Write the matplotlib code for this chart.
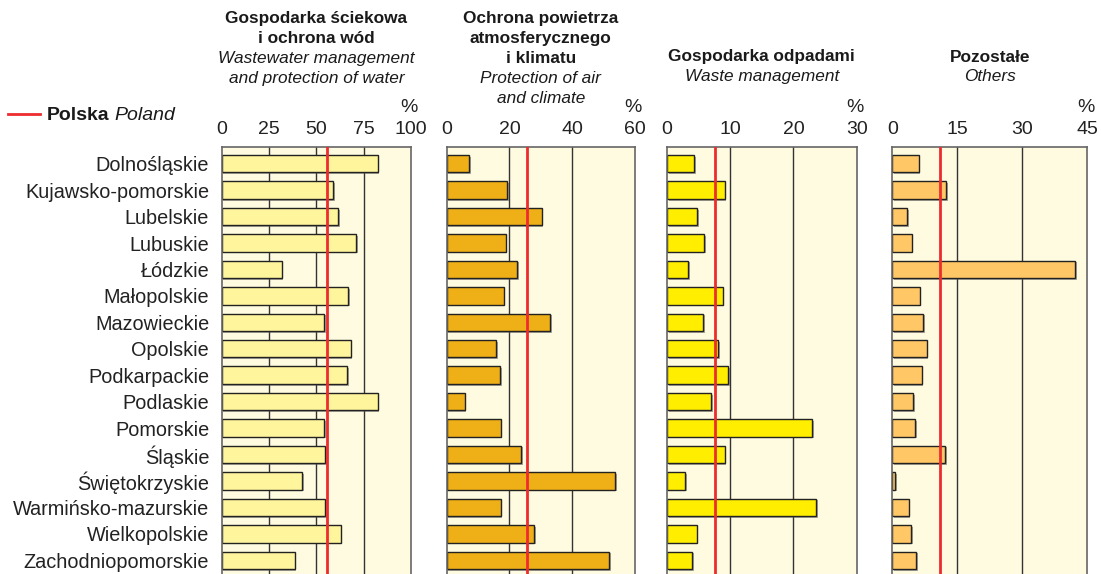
import matplotlib
matplotlib.use("Agg")
import matplotlib.pyplot as plt
import matplotlib.patheffects as pe
from matplotlib.lines import Line2D

plt.rcParams['font.family'] = ['Liberation Sans', 'DejaVu Sans']

regions = ["Dolnośląskie", "Kujawsko-pomorskie", "Lubelskie", "Lubuskie", "Łódzkie",
           "Małopolskie", "Mazowieckie", "Opolskie", "Podkarpackie", "Podlaskie",
           "Pomorskie", "Śląskie", "Świętokrzyskie", "Warmińsko-mazurskie",
           "Wielkopolskie", "Zachodniopomorskie"]

wastewater = [82.4, 59.0, 61.4, 71.0, 31.7, 66.9, 54.2, 68.1, 66.2, 82.4, 54.2, 54.8, 42.6, 54.8, 62.9, 38.6]
air = [7.2, 19.3, 30.3, 18.8, 22.5, 18.1, 33.0, 15.8, 17.1, 5.7, 17.2, 23.8, 53.7, 17.2, 27.9, 51.7]
waste = [4.3, 9.1, 4.8, 5.9, 3.4, 8.8, 5.7, 8.1, 9.7, 7.0, 23.0, 9.1, 2.9, 23.6, 4.7, 4.0]
others = [6.1, 12.4, 3.5, 4.5, 42.2, 6.3, 7.1, 7.9, 6.8, 4.8, 5.3, 12.2, 0.7, 3.8, 4.4, 5.5]
poland = [55.5, 25.7, 7.6, 11.1]

xmax = [100, 60, 30, 45]
ticks = [[0, 25, 50, 75, 100], [0, 20, 40, 60], [0, 10, 20, 30], [0, 15, 30, 45]]

titles = [
    [("Gospodarka ściekowa", "bold"), ("i ochrona wód", "bold"),
     ("Wastewater management", "italic"), ("and protection of water", "italic")],
    [("Ochrona powietrza", "bold"), ("atmosferycznego", "bold"), ("i klimatu", "bold"),
     ("Protection of air", "italic"), ("and climate", "italic")],
    [("Gospodarka odpadami", "bold"), ("Waste management", "italic")],
    [("Pozostałe", "bold"), ("Others", "italic")],
]
title_top_px = [19, 19, 57, 57]

series = [wastewater, air, waste, others]
colors = ["#FFF59C", "#EEAF17", "#FFEE00", "#FFC766"]
bg = "#FFFBE0"
W, H = 1101, 574

fig = plt.figure(figsize=(W / 100, H / 100), dpi=100)

panels_px = [(221.7, 411.0), (446.7, 635.0), (667.0, 856.7), (892.3, 1087.3)]
top_px = 147.3

for i, (x0, x1) in enumerate(panels_px):
    ax = fig.add_axes([x0 / W, 0, (x1 - x0) / W, 1 - top_px / H])
    ax.set_facecolor(bg)
    ypos = list(range(len(regions)))
    for t in ticks[i][1:-1]:
        ax.axvline(t, color="#333333", lw=1.0, zorder=1)
    bars = ax.barh(ypos, series[i], height=0.66, color=colors[i], edgecolor="#222222",
                   linewidth=1.0, zorder=2)
    for b in bars:
        b.set_path_effects([pe.SimplePatchShadow(offset=(1.2, -1.2), shadow_rgbFace="#555555", alpha=0.5),
                            pe.Normal()])
    ax.axvline(poland[i], color="#EE2B2E", lw=2.0, zorder=3)
    ax.set_xlim(0, xmax[i])
    ax.set_ylim(15.52, -0.62)
    ax.xaxis.tick_top()
    ax.set_xticks(ticks[i])
    ax.set_xticklabels([str(t) for t in ticks[i]])
    ax.tick_params(axis="x", length=0, labelsize=14, pad=7, colors="#222222")
    ax.tick_params(axis="y", length=0)
    if i == 0:
        ax.set_yticks(ypos)
        ax.set_yticklabels(regions, fontsize=14.3, color="#222222")
        ax.tick_params(axis="y", pad=9)
    else:
        ax.set_yticks([])
    for s in ["left", "right", "top"]:
        ax.spines[s].set_color("#666666")
        ax.spines[s].set_linewidth(1.2)
    ax.spines["bottom"].set_visible(False)
    # percent sign
    fig.text((x1 + 7) / W, 1 - 108 / H, "%", ha="right", va="center", fontsize=14, color="#222222")
    # title
    cx = (x0 + x1) / 2
    for k, (txt, st) in enumerate(titles[i]):
        y = title_top_px[i] + k * 19.8
        if st == "bold":
            fig.text(cx / W, 1 - y / H, txt, ha="center", va="center", fontsize=12.4,
                     fontweight="bold", color="#1a1a1a")
        else:
            fig.text(cx / W, 1 - y / H, txt, ha="center", va="center", fontsize=12.4,
                     fontstyle="italic", color="#1a1a1a")

# legend
fig.add_artist(Line2D([8 / W, 40 / W], [1 - 114 / H, 1 - 114 / H], color="#EE2B2E", lw=2))
t1 = fig.text(47 / W, 1 - 115 / H, "Polska", ha="left", va="center", fontsize=14,
              fontweight="bold", color="#1a1a1a")
fig.canvas.draw()
bb = t1.get_window_extent()
fig.text((bb.x1 + 5) / W, 1 - 115 / H, "Poland", ha="left", va="center", fontsize=14,
         fontstyle="italic", color="#1a1a1a")

fig.savefig("out.png", dpi=100, facecolor="white")
